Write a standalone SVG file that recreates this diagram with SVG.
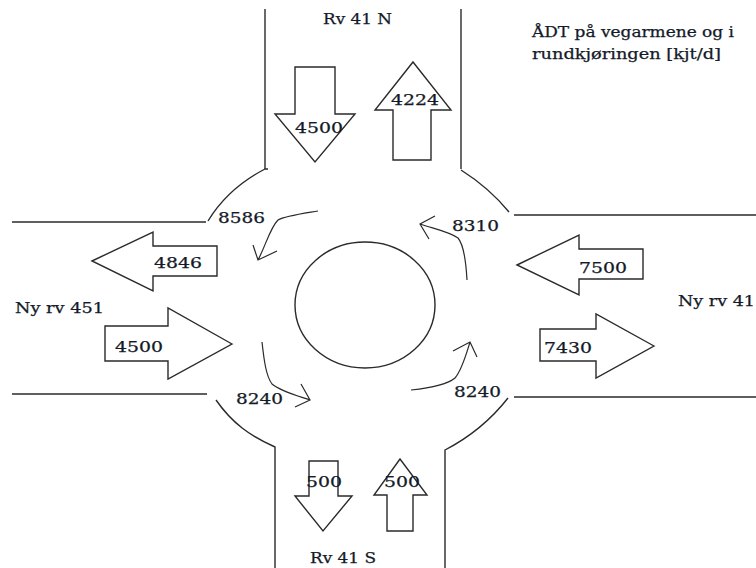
<svg xmlns="http://www.w3.org/2000/svg" width="756" height="568" viewBox="0 0 756 568">
<style>
.l{fill:none;stroke:#2a2a2a;stroke-width:1.4}
.a{fill:#fff;stroke:#2a2a2a;stroke-width:1.4;stroke-linejoin:miter}
.c{fill:none;stroke:#2a2a2a;stroke-width:1.2}
text{font-family:"DejaVu Serif","Liberation Serif",serif;font-size:14px;fill:#141a28;stroke:#141a28;stroke-width:.25}
.n{font-size:14px}
</style>
<rect width="756" height="568" fill="#fff"/>
<g id="roads">
<path class="l" d="M265 9V169"/><path class="l" d="M461 9V169"/>
<path class="l" d="M268 169H265C240 182 222 198 208 221"/>
<path class="l" d="M461 170C480 182 495 195 509 212"/>
<path class="l" d="M12 222H206"/><path class="l" d="M514 215H756"/>
<path class="l" d="M12 394H207"/><path class="l" d="M514 397H756"/>
<path class="l" d="M216 400C232 423 250 436 275 447V568"/>
<path class="l" d="M508 398C490 421 470 437 445 450V568"/>
</g>
<g id="roundabout"><ellipse class="l" cx="365" cy="305" rx="70" ry="63"/></g>
<g id="connectors">
<path class="c" d="M318 211C300 214 285 216 278 220C270 228 266 245 258 260M253 245L258 260L277 251"/>
<path class="c" d="M467 280C466 262 464 245 458 238C450 232 435 229 420 224M435 216L420 224L429 239"/>
<path class="c" d="M262 342C264 360 266 376 272 384C280 391 295 395 310 400M301 384L310 400L295 407"/>
<path class="c" d="M411 390C430 388 448 384 455 378C462 370 466 355 470 342M453 351L470 342L477 357"/>
</g>
<g id="arrow-n-down"><polygon class="a" points="295,67 335,67 335,114 355,114 315,162 275,114 295,114"/><text class="n" x="295" y="133" textLength="48" lengthAdjust="spacingAndGlyphs">4500</text></g>
<g id="arrow-n-up"><polygon class="a" points="413,62 451,110 431,110 431,160 393,160 393,110 375,110"/><text class="n" x="391" y="105" textLength="48" lengthAdjust="spacingAndGlyphs">4224</text></g>
<g id="arrow-w-out"><polygon class="a" points="92,261 153,232 153,246 217,246 217,276 153,276 153,291"/><text class="n" x="154" y="268" textLength="48" lengthAdjust="spacingAndGlyphs">4846</text></g>
<g id="arrow-w-in"><polygon class="a" points="232,344 168,308 168,326 105,326 105,361 168,361 168,379"/><text class="n" x="115" y="352" textLength="48" lengthAdjust="spacingAndGlyphs">4500</text></g>
<g id="arrow-e-in"><polygon class="a" points="517,265 579,235 579,249 643,249 643,279 579,279 579,295"/><text class="n" x="579" y="273" textLength="48" lengthAdjust="spacingAndGlyphs">7500</text></g>
<g id="arrow-e-out"><polygon class="a" points="654,346 596,314 596,329 540,329 540,361 596,361 596,378"/><text class="n" x="544" y="353" textLength="48" lengthAdjust="spacingAndGlyphs">7430</text></g>
<g id="arrow-s-down"><polygon class="a" points="309,461 338,461 338,496 352,496 323,531 295,496 309,496"/><text class="n" x="306" y="487" textLength="36" lengthAdjust="spacingAndGlyphs">500</text></g>
<g id="arrow-s-up"><polygon class="a" points="400,459 427,495 413,495 413,531 387,531 387,495 374,495"/><text class="n" x="384" y="487" textLength="36" lengthAdjust="spacingAndGlyphs">500</text></g>
<g id="labels">
<text x="323" y="24" textLength="69" lengthAdjust="spacingAndGlyphs">Rv 41 N</text>
<text x="310" y="563" textLength="66" lengthAdjust="spacingAndGlyphs">Rv 41 S</text>
<text x="15" y="313" textLength="89" lengthAdjust="spacingAndGlyphs">Ny rv 451</text>
<text x="678" y="306" textLength="77" lengthAdjust="spacingAndGlyphs">Ny rv 41</text>
<text class="n" x="218" y="223" textLength="47" lengthAdjust="spacingAndGlyphs">8586</text>
<text class="n" x="452" y="231" textLength="47" lengthAdjust="spacingAndGlyphs">8310</text>
<text class="n" x="236" y="404" textLength="47" lengthAdjust="spacingAndGlyphs">8240</text>
<text class="n" x="454" y="397" textLength="47" lengthAdjust="spacingAndGlyphs">8240</text>
<text x="532" y="37" textLength="202" lengthAdjust="spacingAndGlyphs">ÅDT på vegarmene og i</text>
<text x="532" y="59" textLength="189" lengthAdjust="spacingAndGlyphs">rundkjøringen [kjt/d]</text>
</g>
</svg>
